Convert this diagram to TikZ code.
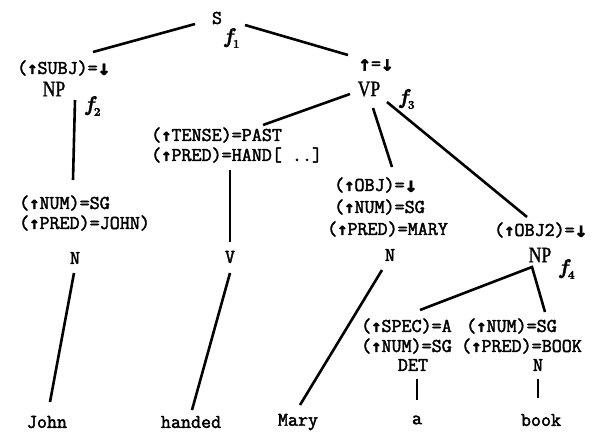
\documentclass[tikz,border=0pt]{standalone}
\usepackage{fontspec}
\newfontfamily\twfont{Latin Modern Mono}[FakeBold=2.2]
\newfontfamily\catfont{Liberation Serif}[FakeStretch=0.8,FakeBold=1.2]
\newfontfamily\arrfont{DejaVu Sans Mono Bold}[FakeBold=1.5]
\newfontfamily\ffont{Latin Modern Roman}[FakeBold=1.5]
\newcommand\pu{{\fontsize{17}{17}\selectfont\arrfont ↑}}
\newcommand\dnarr{\raisebox{-1pt}{\fontsize{21}{21}\selectfont\arrfont ↓}}
\newcommand\uparr{\raisebox{-1pt}{\fontsize{21}{21}\selectfont\arrfont ↑}}
\newcommand\fsub[1]{{\ffont\bfseries\itshape f}\raisebox{-5pt}{\fontsize{12}{12}\selectfont\ffont\bfseries #1}}
\begin{document}
\begin{tikzpicture}[x=1pt,y=-1pt,
  lab/.style={font=\fontsize{19.5}{21}\selectfont\twfont, inner sep=0pt},
  cat/.style={font=\fontsize{22}{24}\selectfont\catfont, inner sep=0pt},
  fn/.style={font=\fontsize{21}{22}\selectfont, inner sep=0pt},
  edge/.style={line width=2.6pt}]
\useasboundingbox (0,0) rectangle (613,432);
% nodes
\node[lab] (S) at (217,18) {S};
\node[fn] (f1) at (232,38) {\fsub{1}};
\node[lab, anchor=west] (subj) at (17,68) {(\pu SUBJ)=\dnarr};
\node[cat] (np1) at (54,89) {NP};
\node[fn] (f2) at (93,106) {\fsub{2}};
\node[lab, anchor=west] (num1) at (19,203) {(\pu NUM)=SG};
\node[lab, anchor=west] (pred1) at (19,223) {(\pu PRED)=JOHN)};
\node[lab] (n1) at (75,258) {N};
\node[lab] (john) at (47,422) {John};
\node[lab] (updown) at (376,65) {\uparr=\dnarr};
\node[cat] (vp) at (369,89) {VP};
\node[fn] (f3) at (407,99) {\fsub{3}};
\node[lab, anchor=west] (tense) at (151,135) {(\pu TENSE)=PAST};
\node[lab, anchor=west] (pred2) at (151,155) {(\pu PRED)=HAND[ ..]};
\node[lab] (v) at (230,257) {V};
\node[lab] (handed) at (191,422) {handed};
\node[lab, anchor=west] (obj) at (334,185) {(\pu OBJ)=\dnarr};
\node[lab, anchor=west] (num2) at (334,207) {(\pu NUM)=SG};
\node[lab, anchor=west] (pred3) at (327,229) {(\pu PRED)=MARY};
\node[lab] (n2) at (390,255) {N};
\node[lab] (mary) at (298,422) {Mary};
\node[lab, anchor=west] (obj2) at (494,230) {(\pu OBJ2)=\dnarr};
\node[cat] (np2) at (540,255) {NP};
\node[fn] (f4) at (567,269) {\fsub{4}};
\node[lab, anchor=west] (spec) at (361,326) {(\pu SPEC)=A};
\node[lab, anchor=west] (num3) at (361,346) {(\pu NUM)=SG};
\node[lab] (det) at (413,365) {DET};
\node[lab] (a) at (417,420) {a};
\node[lab, anchor=west] (num4) at (466,326) {(\pu NUM)=SG};
\node[lab, anchor=west] (pred4) at (461,346) {(\pu PRED)=BOOK};
\node[lab] (n3) at (538,365) {N};
\node[lab] (book) at (541,420) {book};
% connector end points
\coordinate (sL) at (195,24);   \coordinate (subjT) at (93,52);
\coordinate (sR) at (245,25);   \coordinate (udT) at (348,55);
\coordinate (np1B) at (75,100); \coordinate (num1T) at (73,180);
\coordinate (n1B) at (74,273);  \coordinate (johnT) at (50,402);
\coordinate (vpL) at (350,94);  \coordinate (tenseT) at (263,125);
\coordinate (pred2B) at (230,170); \coordinate (vT) at (230,242);
\coordinate (vB) at (230,273);  \coordinate (handedT) at (192,410);
\coordinate (vpB) at (373,108); \coordinate (objT) at (392,167);
\coordinate (n2B) at (382,270); \coordinate (maryT) at (300,405);
\coordinate (vpR) at (387,102); \coordinate (obj2T) at (527,217);
\coordinate (np2B) at (532,267); \coordinate (specT) at (420,310);
\coordinate (num4T) at (545,312);
\coordinate (detB) at (417,379); \coordinate (aT) at (417,400);
\coordinate (n3B) at (538,379); \coordinate (bookT) at (538,398);
% connectors
\draw[edge] (sL) -- (subjT);
\draw[edge] (sR) -- (udT);
\draw[edge] (np1B) -- (num1T);
\draw[edge] (n1B) -- (johnT);
\draw[edge] (vpL) -- (tenseT);
\draw[edge] (pred2B) -- (vT);
\draw[edge] (vB) -- (handedT);
\draw[edge] (vpB) -- (objT);
\draw[edge] (n2B) -- (maryT);
\draw[edge] (vpR) -- (obj2T);
\draw[edge, line join=miter] (specT) -- (np2B) -- (num4T);
\draw[edge] (detB) -- (aT);
\draw[edge] (n3B) -- (bookT);
\end{tikzpicture}
\end{document}
